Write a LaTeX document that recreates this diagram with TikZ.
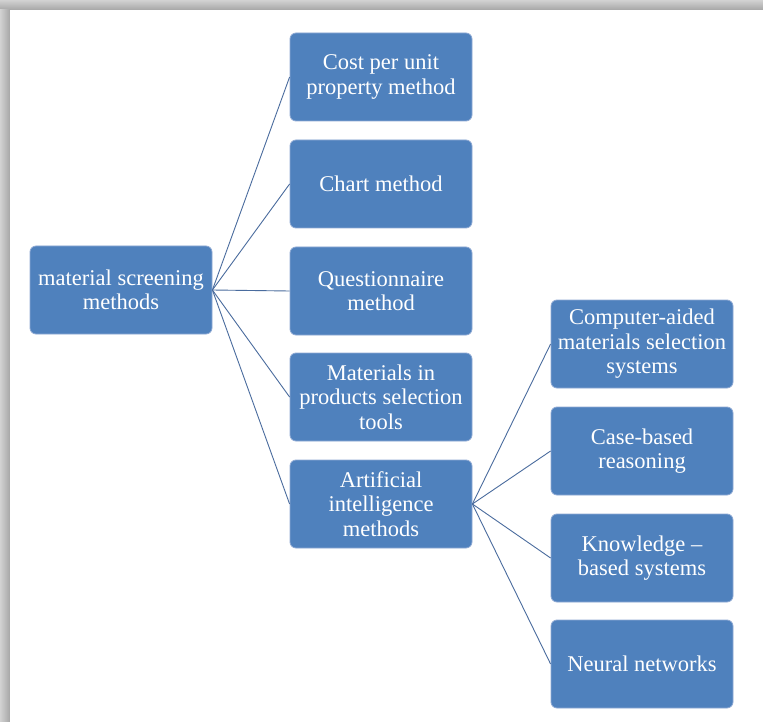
\documentclass[tikz,border=0pt]{standalone}
\usepackage{fontspec}
\setmainfont{Liberation Serif}
\definecolor{boxblue}{HTML}{4F81BD}
\definecolor{boxedge}{HTML}{8EA9D4}
\definecolor{linkblue}{HTML}{4A6C9E}
\begin{document}
\begin{tikzpicture}[x=1pt,y=-1pt,
  box/.style={draw=boxedge,line width=0.8pt,fill=boxblue,rounded corners=6pt,
    minimum width=182pt,minimum height=88pt,text=white,align=center,
    font=\fontsize{22.5}{24.5}\selectfont,inner sep=1pt},
  link/.style={draw=linkblue,line width=0.9pt}]
\useasboundingbox (0,0) rectangle (763,722);
\fill[white] (0,0) rectangle (763,722);
% frame shadow
\shade[top color=gray!35,bottom color=gray!70] (0,0) rectangle (763,10);
\shade[left color=gray!35,right color=gray!70] (0,10) rectangle (10,722);
\fill[white] (10,10) rectangle (763,722);
% nodes
\node[box] (root) at (121,290) {material screening\\methods};
\node[box] (cost) at (381,77) {Cost per unit\\property method};
\node[box] (chart) at (381,184) {Chart method};
\node[box] (quest) at (381,291) {Questionnaire\\method};
\node[box] (mips) at (381,397) {Materials in\\products selection\\tools};
\node[box] (ai) at (381,504) {Artificial\\intelligence\\methods};
\node[box] (cams) at (642,344) {Computer-aided\\materials selection\\systems};
\node[box] (cbr) at (642,451) {Case-based\\reasoning};
\node[box] (kbs) at (642,558) {Knowledge –\\based systems};
\node[box] (nn) at (642,664) {Neural networks};
% connectors
\foreach \t in {cost,chart,quest,mips,ai}
  \draw[link] (root.east) -- (\t.west);
\foreach \t in {cams,cbr,kbs,nn}
  \draw[link] (ai.east) -- (\t.west);
\end{tikzpicture}
\end{document}
